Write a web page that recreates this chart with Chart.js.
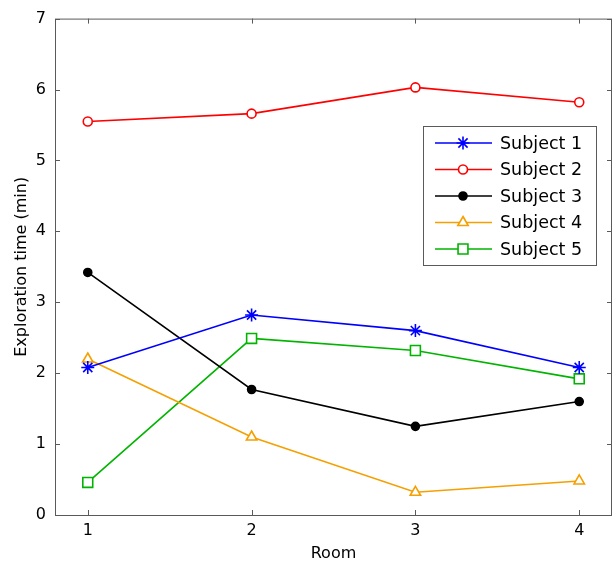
<!DOCTYPE html>
<html>
<head>
<meta charset="utf-8">
<script src="https://cdn.jsdelivr.net/npm/chart.js@4/dist/chart.umd.min.js"></script>
<style>
  html, body { margin: 0; padding: 0; background: #ffffff; }
  #wrap { width: 612px; height: 563px; }
</style>
</head>
<body>
<div id="wrap"><canvas id="chart" width="612" height="563"></canvas></div>
<script>
// Rooms visited and exploration time (minutes) per subject
const rooms = [1, 2, 3, 4];
const subject1 = [2.08, 2.82, 2.60, 2.08];
const subject2 = [5.55, 5.66, 6.03, 5.82];
const subject3 = [3.42, 1.77, 1.25, 1.60];
const subject4 = [2.20, 1.10, 0.32, 0.48];
const subject5 = [0.46, 2.49, 2.32, 1.92];
const seriesNames = ['Subject 1', 'Subject 2', 'Subject 3', 'Subject 4', 'Subject 5'];
const yTicks = [0, 1, 2, 3, 4, 5, 6, 7];

const FONT = "'DejaVu Sans', Verdana, sans-serif";
const AXIS_COLOR = '#5a5a5a';

const styles = [
  { color: '#0000ff', point: 'star',     radius: 6.5, fill: '#0000ff' },
  { color: '#ff0000', point: 'circle',   radius: 4.5, fill: '#ffffff' },
  { color: '#000000', point: 'circle',   radius: 4, fill: '#000000' },
  { color: '#f5a000', point: 'triangle', radius: 6, fill: '#ffffff' },
  { color: '#00b400', point: 'rect',     radius: 7, fill: '#ffffff' }
];

const values = [subject1, subject2, subject3, subject4, subject5];

const datasets = values.map((vals, i) => ({
  label: seriesNames[i],
  data: rooms.map((r, j) => ({ x: r, y: vals[j] })),
  borderColor: styles[i].color,
  backgroundColor: styles[i].fill,
  pointBackgroundColor: styles[i].fill,
  pointBorderColor: styles[i].color,
  pointStyle: styles[i].point,
  pointRadius: styles[i].radius,
  pointBorderWidth: 1.6,
  borderWidth: 1.6,
  tension: 0,
  fill: false
}));

// Box frame with inward-pointing ticks
const framePlugin = {
  id: 'frame',
  beforeDatasetsDraw(chart) {
    const { ctx, chartArea: a, scales } = chart;
    ctx.save();
    ctx.strokeStyle = AXIS_COLOR;
    ctx.lineWidth = 1;
    ctx.strokeRect(a.left + 0.5, a.top + 0.5, a.right - a.left - 1, a.bottom - a.top);
    const len = 5;
    ctx.beginPath();
    rooms.forEach(r => {
      const x = Math.round(scales.x.getPixelForValue(r)) + 0.5;
      ctx.moveTo(x, a.bottom); ctx.lineTo(x, a.bottom - len);
      ctx.moveTo(x, a.top); ctx.lineTo(x, a.top + len);
    });
    yTicks.forEach(v => {
      const y = Math.round(scales.y.getPixelForValue(v)) + 0.5;
      ctx.moveTo(a.left, y); ctx.lineTo(a.left + len, y);
      ctx.moveTo(a.right, y); ctx.lineTo(a.right - len, y);
    });
    ctx.stroke();
    ctx.restore();
  }
};

// Legend box inside the plot area
const legendPlugin = {
  id: 'boxLegend',
  afterDatasetsDraw(chart) {
    const { ctx } = chart;
    const box = { x: 423.5, y: 126.5, w: 173, h: 139 };
    ctx.save();
    ctx.fillStyle = '#ffffff';
    ctx.fillRect(box.x, box.y, box.w, box.h);
    ctx.strokeStyle = AXIS_COLOR;
    ctx.lineWidth = 1;
    ctx.strokeRect(box.x, box.y, box.w, box.h);
    ctx.font = '17.5px ' + FONT;
    ctx.textBaseline = 'middle';
    ctx.textAlign = 'left';
    chart.data.datasets.forEach((ds, i) => {
      const y = 143 + i * 26.5;
      ctx.strokeStyle = ds.borderColor;
      ctx.lineWidth = 1.6;
      ctx.beginPath();
      ctx.moveTo(435, y);
      ctx.lineTo(492, y);
      ctx.stroke();
      ctx.fillStyle = ds.pointBackgroundColor;
      ctx.strokeStyle = ds.pointBorderColor;
      ctx.lineWidth = 1.6;
      Chart.helpers.drawPoint(ctx, { pointStyle: ds.pointStyle, radius: ds.pointRadius, rotation: 0, borderWidth: 1.6 }, 463, y);
      ctx.fillStyle = '#000000';
      ctx.fillText(ds.label, 500, y + 1);
    });
    ctx.restore();
  }
};

new Chart(document.getElementById('chart'), {
  type: 'line',
  data: { datasets },
  options: {
    responsive: false,
    devicePixelRatio: 1,
    animation: false,
    layout: { autoPadding: false, padding: { top: 18, right: 0, left: 0, bottom: 0 } },
    plugins: { legend: { display: false }, tooltip: { enabled: false } },
    scales: {
      x: {
        type: 'linear',
        min: 0.8,
        max: 4.2,
        afterBuildTicks: s => { s.ticks = rooms.map(v => ({ value: v })); },
        afterFit: s => { s.height = 48; },
        grid: { display: false, drawTicks: false },
        border: { display: false },
        ticks: { color: '#000000', font: { family: FONT, size: 16 }, padding: 6, maxRotation: 0 },
        title: { display: true, text: 'Room', color: '#000000', font: { family: FONT, size: 16 }, padding: { top: 2, bottom: 0 } }
      },
      y: {
        type: 'linear',
        min: 0,
        max: 7,
        afterBuildTicks: s => { s.ticks = yTicks.map(v => ({ value: v })); },
        afterFit: s => { s.width = 55; },
        grid: { display: false, drawTicks: false },
        border: { display: false },
        ticks: { color: '#000000', font: { family: FONT, size: 16 }, padding: 9 },
        title: { display: true, text: 'Exploration time (min)', color: '#000000', font: { family: FONT, size: 16 }, padding: { top: 12, bottom: 0 } }
      }
    }
  },
  plugins: [framePlugin, legendPlugin]
});
</script>
</body>
</html>
